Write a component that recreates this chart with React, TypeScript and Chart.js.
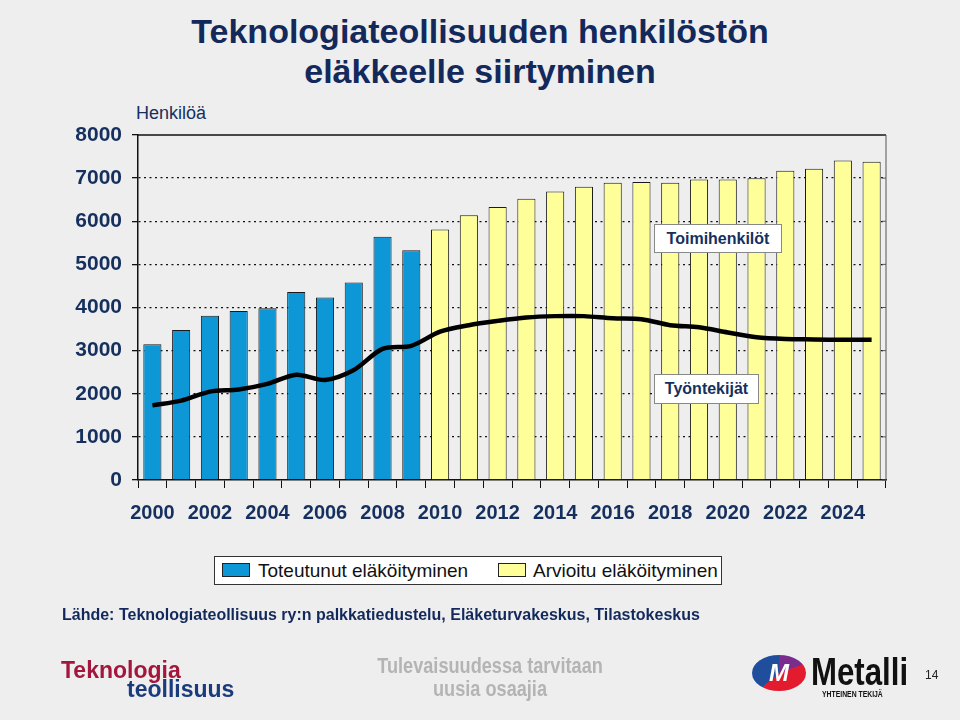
import React, { useEffect, useRef } from "react";
import { Chart, registerables } from "chart.js";

Chart.register(...registerables);

// ---- Data ----
const years = [
  "2000", "2001", "2002", "2003", "2004", "2005", "2006", "2007", "2008", "2009",
  "2010", "2011", "2012", "2013", "2014", "2015", "2016", "2017", "2018", "2019",
  "2020", "2021", "2022", "2023", "2024", "2025",
];
// Toteutunut eläköityminen 2000–2009
const realized = [3150, 3480, 3810, 3920, 3980, 4360, 4230, 4580, 5640, 5330];
// Arvioitu eläköityminen 2010–2025
const estimated = [5810, 6140, 6330, 6520, 6690, 6800, 6890, 6910, 6890, 6970, 6970, 7000, 7170, 7220, 7410, 7380];
// Työntekijät (raja toimihenkilöiden ja työntekijöiden välillä)
const workers = [
  1730, 1840, 2050, 2100, 2230, 2440, 2320, 2550, 3040, 3110,
  3440, 3590, 3690, 3770, 3800, 3800, 3750, 3730, 3590, 3540,
  3420, 3310, 3270, 3260, 3250, 3250,
];
const yTickValues = [0, 1000, 2000, 3000, 4000, 5000, 6000, 7000, 8000];
const shownYearLabels = ["2000", "2002", "2004", "2006", "2008", "2010", "2012", "2014", "2016", "2018", "2020", "2022", "2024"];

const NAVY = "#15305e";
const SANS = "'Liberation Sans', Arial, sans-serif";

const framePlugin = {
  id: "frame",
  afterDatasetsDraw(chart: any) {
    const { ctx, chartArea } = chart;
    const y = chart.scales.y;
    ctx.save();
    ctx.strokeStyle = "#111";
    ctx.lineWidth = 1.5;
    ctx.beginPath();
    ctx.moveTo(chartArea.left, chartArea.top);
    ctx.lineTo(chartArea.right, chartArea.top);
    ctx.stroke();
    ctx.strokeStyle = "#555";
    ctx.lineWidth = 1;
    ctx.beginPath();
    ctx.moveTo(chartArea.right, chartArea.top);
    ctx.lineTo(chartArea.right, chartArea.bottom);
    yTickValues.forEach((v) => {
      const py = y.getPixelForValue(v);
      ctx.moveTo(chartArea.right, py);
      ctx.lineTo(chartArea.right - 4, py);
    });
    ctx.stroke();
    ctx.restore();
  },
};

function ChartCanvas() {
  const ref = useRef<HTMLCanvasElement | null>(null);
  useEffect(() => {
    if (!ref.current) return;
    const realizedData = years.map((_, i) => (i < realized.length ? realized[i] : null));
    const estimatedData = years.map((_, i) => (i >= realized.length ? estimated[i - realized.length] : null));
    const chart = new Chart(ref.current, {
      type: "bar",
      data: {
        labels: years,
        datasets: [
          {
            type: "line",
            label: "Työntekijät",
            data: workers,
            borderColor: "#000",
            borderWidth: 4.5,
            pointRadius: 0,
            tension: 0.3,
            order: 0,
          } as any,
          {
            label: "Toteutunut eläköityminen",
            data: realizedData,
            backgroundColor: "#0d97d6",
            borderColor: "#1a1a1a",
            borderWidth: 1,
            grouped: false,
            barPercentage: 0.63,
            categoryPercentage: 1,
            order: 1,
          } as any,
          {
            label: "Arvioitu eläköityminen",
            data: estimatedData,
            backgroundColor: "#ffff99",
            borderColor: "#1a1a1a",
            borderWidth: 1,
            grouped: false,
            barPercentage: 0.63,
            categoryPercentage: 1,
            order: 2,
          } as any,
        ],
      },
      options: {
        responsive: false,
        animation: false,
        layout: { padding: { left: 0, top: 135, right: 74, bottom: 0 } },
        plugins: { legend: { display: false }, tooltip: { enabled: false }, title: { display: false } },
        scales: {
          x: {
            grid: { display: true, drawOnChartArea: false, offset: true, tickLength: 8, color: "#111", lineWidth: 1 },
            border: { display: true, color: "#111", width: 1.5 },
            ticks: {
              autoSkip: false,
              maxRotation: 0,
              minRotation: 0,
              padding: 13,
              color: NAVY,
              font: { family: SANS, size: 20, weight: "bold" },
              callback: (_v: any, i: number) => (shownYearLabels.includes(years[i]) ? years[i] : ""),
            },
            afterFit: (s: any) => {
              s.height = 240;
            },
          },
          y: {
            min: 0,
            max: 8000,
            afterBuildTicks: (s: any) => {
              s.ticks = yTickValues.map((v) => ({ value: v }));
            },
            ticks: {
              padding: 10,
              color: NAVY,
              font: { family: SANS, size: 21, weight: "bold" },
              callback: (v: any) => String(v),
            },
            grid: {
              color: (c: any) => (c.tick && (c.tick.value === 0 || c.tick.value === 8000) ? "rgba(0,0,0,0)" : "#111"),
              tickColor: "#111",
              tickLength: 6,
              lineWidth: 1.3,
            },
            border: { display: true, color: "#111", width: 1.5, dash: [2, 3.5] },
            afterFit: (s: any) => {
              s.width = 138;
            },
          },
        },
      },
      plugins: [framePlugin],
    } as any);
    return () => chart.destroy();
  }, []);
  return <canvas ref={ref} width={960} height={720} style={{ position: "absolute", left: 0, top: 0, width: 960, height: 720 }} />;
}

const abs = (s: React.CSSProperties): React.CSSProperties => ({ position: "absolute", whiteSpace: "nowrap", ...s });

export default function App() {
  useEffect(() => {
    document.body.style.margin = "0";
  }, []);
  return (
    <div style={{ position: "relative", width: 960, height: 720, background: "#eeeeee", overflow: "hidden", fontFamily: SANS }}>
      {/* Title */}
      <div style={abs({ left: 0, top: 11, width: 960, textAlign: "center", color: "#13295b", fontWeight: "bold", fontSize: 34, lineHeight: "40px" })}>
        Teknologiateollisuuden henkilöstön
        <br />
        eläkkeelle siirtyminen
      </div>
      <div style={abs({ left: 136, top: 104, color: NAVY, fontSize: 18, lineHeight: "18px" })}>Henkilöä</div>

      <ChartCanvas />

      {/* Annotations */}
      <div style={abs({ left: 654, top: 224, width: 128, height: 29, background: "#fff", border: "1px solid #888", boxSizing: "border-box", display: "flex", alignItems: "center", justifyContent: "center", color: NAVY, fontWeight: "bold", fontSize: 16 })}>
        Toimihenkilöt
      </div>
      <div style={abs({ left: 654, top: 374, width: 105, height: 30, background: "#fff", border: "1px solid #888", boxSizing: "border-box", display: "flex", alignItems: "center", justifyContent: "center", color: NAVY, fontWeight: "bold", fontSize: 16 })}>
        Työntekijät
      </div>

      {/* Legend */}
      <div style={abs({ left: 214, top: 556, width: 508, height: 29, background: "#fff", border: "1px solid #333", boxSizing: "border-box" })} />
      <div style={abs({ left: 222, top: 563, width: 28, height: 14, background: "#0d97d6", border: "1px solid #222", boxSizing: "border-box" })} />
      <div style={abs({ left: 258, top: 561, fontSize: 19, lineHeight: "19px", color: "#111" })}>Toteutunut eläköityminen</div>
      <div style={abs({ left: 498, top: 563, width: 28, height: 14, background: "#ffff99", border: "1px solid #222", boxSizing: "border-box" })} />
      <div style={abs({ left: 533, top: 561, fontSize: 19, lineHeight: "19px", color: "#111" })}>Arvioitu eläköityminen</div>

      {/* Source */}
      <div style={abs({ left: 62, top: 607, color: "#13295b", fontWeight: "bold", fontSize: 16, lineHeight: "16px" })}>
        Lähde: Teknologiateollisuus ry:n palkkatiedustelu, Eläketurvakeskus, Tilastokeskus
      </div>

      {/* Footer logos */}
      <div style={abs({ left: 61, top: 659, color: "#a3173c", fontWeight: "bold", fontSize: 23, lineHeight: "23px" })}>Teknologia</div>
      <div style={abs({ left: 127, top: 678, color: "#1b3c7c", fontWeight: "bold", fontSize: 23, lineHeight: "23px" })}>teollisuus</div>

      <div style={abs({ left: 290, top: 654, width: 400, textAlign: "center", color: "#b4b4b4", fontWeight: "bold", fontSize: 22, lineHeight: "23px", transform: "scaleX(0.825)", transformOrigin: "center" })}>
        Tulevaisuudessa tarvitaan
        <br />
        uusia osaajia
      </div>

      <div style={abs({ left: 752, top: 655, width: 54, height: 36, borderRadius: "50%", background: "conic-gradient(#7b2d8e 0deg 70deg, #e31b2e 70deg 230deg, #1f4e9c 230deg 360deg)", display: "flex", alignItems: "center", justifyContent: "center", color: "#fff", fontWeight: "bold", fontStyle: "italic", fontSize: 24 })}>
        M
      </div>
      <div style={abs({ left: 811, top: 652, color: "#111", fontWeight: "bold", fontSize: 39, lineHeight: "39px", transform: "scaleX(0.8)", transformOrigin: "left" })}>Metalli</div>
      <div style={abs({ left: 822, top: 690, color: "#111", fontWeight: "bold", fontSize: 9, lineHeight: "9px", transform: "scaleX(0.76)", transformOrigin: "left" })}>YHTEINEN TEKIJÄ</div>
      <div style={abs({ left: 925, top: 669, color: "#222", fontSize: 12, lineHeight: "12px" })}>14</div>
    </div>
  );
}
